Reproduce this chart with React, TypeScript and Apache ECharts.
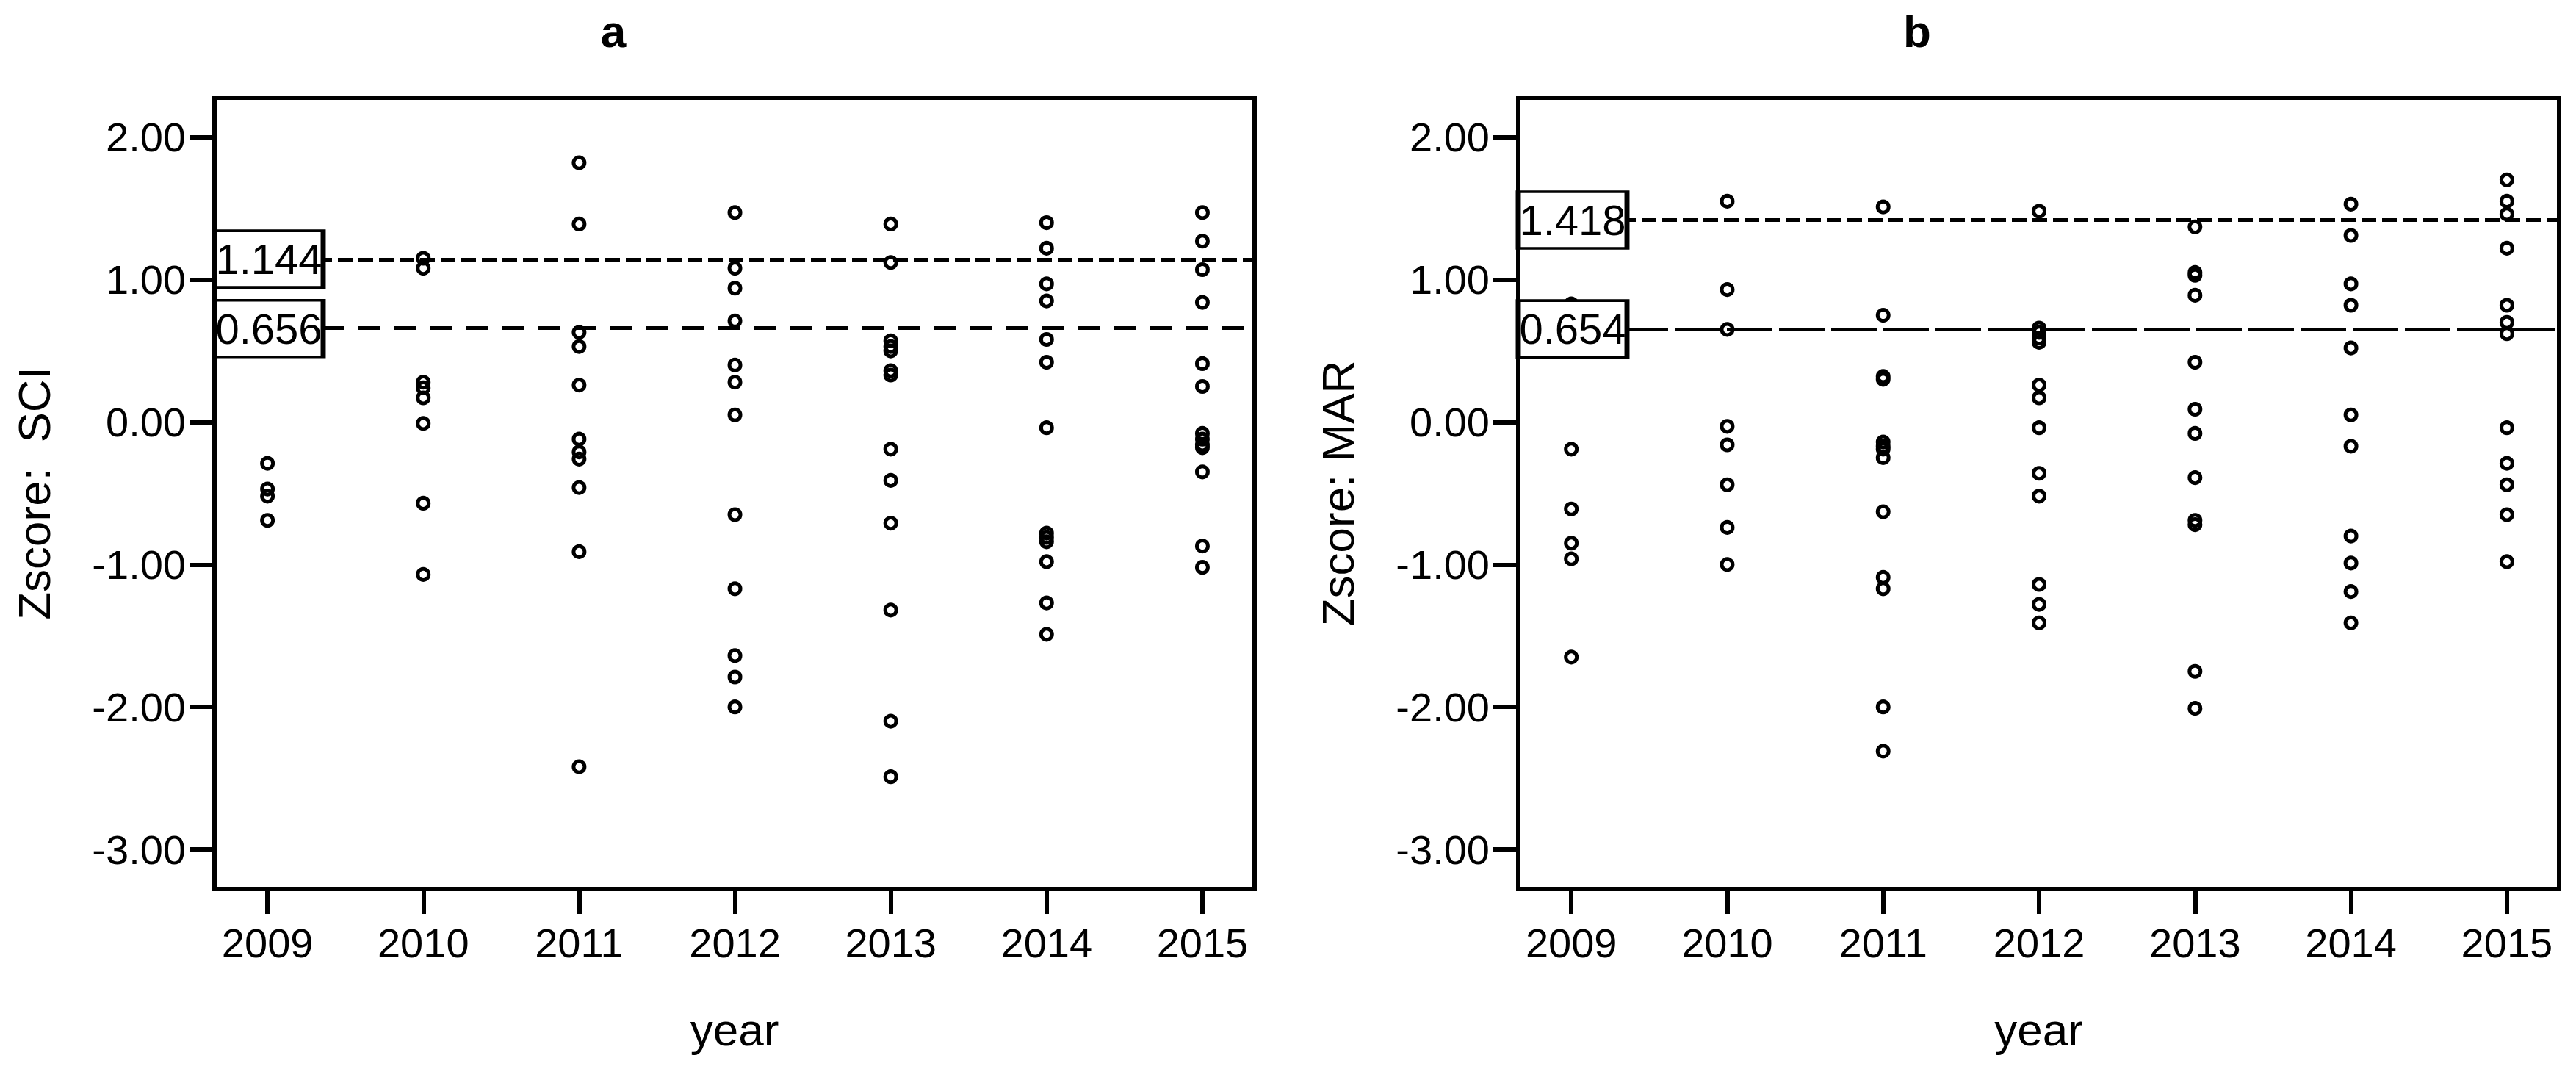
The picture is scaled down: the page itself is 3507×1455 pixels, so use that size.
import React, { useEffect, useRef } from "react";
import * as echarts from "echarts";

// ---------- data ----------
const years = [2009, 2010, 2011, 2012, 2013, 2014, 2015];
const yTicks = [-3, -2, -1, 0, 1, 2];

const sci2009 = [-0.29, -0.47, -0.52, -0.69];
const sci2010 = [1.15, 1.08, 0.28, 0.24, 0.17, -0.01, -0.57, -1.07];
const sci2011 = [1.82, 1.39, 0.63, 0.53, 0.26, -0.12, -0.21, -0.26, -0.46, -0.91, -2.42];
const sci2012 = [1.47, 1.08, 0.94, 0.71, 0.4, 0.28, 0.05, -0.65, -1.17, -1.64, -1.79, -2.0];
const sci2013 = [1.39, 1.12, 0.57, 0.53, 0.5, 0.36, 0.33, -0.19, -0.41, -0.71, -1.32, -2.1, -2.49];
const sci2014 = [1.4, 1.22, 0.97, 0.85, 0.58, 0.42, -0.04, -0.78, -0.81, -0.84, -0.98, -1.27, -1.49];
const sci2015 = [1.47, 1.27, 1.07, 0.84, 0.41, 0.25, -0.08, -0.12, -0.16, -0.18, -0.35, -0.87, -1.02];

const mar2009 = [0.83, -0.19, -0.61, -0.85, -0.96, -1.65];
const mar2010 = [1.55, 0.93, 0.65, -0.03, -0.16, -0.44, -0.74, -1.0];
const mar2011 = [1.51, 0.75, 0.32, 0.3, -0.14, -0.17, -0.19, -0.25, -0.63, -1.09, -1.17, -2.0, -2.31];
const mar2012 = [1.48, 0.66, 0.63, 0.59, 0.56, 0.26, 0.17, -0.04, -0.36, -0.52, -1.14, -1.28, -1.41];
const mar2013 = [1.37, 1.05, 1.03, 0.89, 0.42, 0.09, -0.08, -0.39, -0.69, -0.72, -1.75, -2.01];
const mar2014 = [1.53, 1.31, 0.97, 0.82, 0.52, 0.05, -0.17, -0.8, -0.99, -1.19, -1.41];
const mar2015 = [1.7, 1.55, 1.46, 1.22, 0.82, 0.7, 0.62, -0.04, -0.29, -0.44, -0.65, -0.98];

const sciByYear = [sci2009, sci2010, sci2011, sci2012, sci2013, sci2014, sci2015];
const marByYear = [mar2009, mar2010, mar2011, mar2012, mar2013, mar2014, mar2015];

const sciThresholds = [1.144, 0.656];
const marThresholds = [1.418, 0.654];

const panelTitles = ["a", "b"];
const yNames = ["Zscore:  SCI", "Zscore: MAR"];
const xName = "year";

// ---------- layout / style ----------
const X_MIN = 2008.66;
const X_MAX = 2015.335;
const Y_MIN = -3.278;
const Y_MAX = 2.277;
const FONT = "'Liberation Sans', Arial, Helvetica, sans-serif";

function toPoints(byYear: number[][]) {
  const pts: number[][] = [];
  byYear.forEach((vals, i) => vals.forEach((v) => pts.push([years[i], v])));
  return pts;
}

function buildOption() {
  const grids = [
    { left: 292, top: 133, right: 1799, bottom: 245 },
    { left: 2067, top: 133, right: 23, bottom: 245 },
  ].map((g) => ({
    ...g,
    show: true,
    borderColor: "#000",
    borderWidth: 6,
    backgroundColor: "transparent",
    containLabel: false,
  }));

  const xAxes = [0, 1].map((gi) => ({
    gridIndex: gi,
    type: "value",
    min: X_MIN,
    max: X_MAX,
    name: xName,
    nameLocation: "middle",
    nameGap: 160,
    nameTextStyle: { fontSize: 62, color: "#000", fontFamily: FONT },
    axisLine: { show: true, onZero: false, lineStyle: { color: "#000", width: 6 } },
    axisTick: { show: true, length: 34, customValues: years, lineStyle: { color: "#000", width: 6 } },
    axisLabel: {
      show: true,
      customValues: years,
      fontSize: 56,
      margin: 45,
      color: "#000",
      fontFamily: FONT,
      formatter: (v: number) => String(Math.round(v)),
    },
    splitLine: { show: false },
  }));

  const yAxes = [0, 1].map((gi) => ({
    gridIndex: gi,
    type: "value",
    min: Y_MIN,
    max: Y_MAX,
    name: yNames[gi],
    nameLocation: "middle",
    nameGap: 215,
    nameRotate: 90,
    nameTextStyle: { fontSize: 62, color: "#000", fontFamily: FONT },
    axisLine: { show: true, onZero: false, lineStyle: { color: "#000", width: 6 } },
    axisTick: { show: true, length: 34, customValues: yTicks, lineStyle: { color: "#000", width: 6 } },
    axisLabel: {
      show: true,
      customValues: yTicks,
      fontSize: 56,
      margin: 39,
      color: "#000",
      fontFamily: FONT,
      padding: [14, 0, 0, 0],
      formatter: (v: number) => v.toFixed(2),
    },
    splitLine: { show: false },
  }));

  const dashSets = [
    [
      [20, 8],
      [29, 20],
    ],
    [
      [20, 8],
      [62, 9],
    ],
  ];
  const dataSets = [toPoints(sciByYear), toPoints(marByYear)];
  const thresholdSets = [sciThresholds, marThresholds];

  const series: any[] = [];
  [0, 1].forEach((gi) => {
    series.push({
      type: "scatter",
      xAxisIndex: gi,
      yAxisIndex: gi,
      data: dataSets[gi],
      symbol: "circle",
      symbolSize: 15,
      clip: false,
      z: 3,
      itemStyle: { color: "rgba(0,0,0,0)", borderColor: "#000", borderWidth: 5, opacity: 1 },
      silent: true,
      markLine: {
        silent: true,
        symbol: ["none", "none"],
        label: { show: false },
        z: 4,
        lineStyle: { color: "#000", width: 5, opacity: 1 },
        data: thresholdSets[gi].map((t, k) => ({
          yAxis: t,
          lineStyle: { color: "#000", width: 5, opacity: 1, type: dashSets[gi][k] },
        })),
      },
    });
    series.push({
      type: "scatter",
      xAxisIndex: gi,
      yAxisIndex: gi,
      data: thresholdSets[gi].map((t) => [X_MIN, t]),
      symbol: "rect",
      symbolSize: [148, 77],
      symbolOffset: [74, 0],
      clip: false,
      z: 10,
      silent: true,
      itemStyle: { color: "#fff", borderColor: "#000", borderWidth: 5, opacity: 1 },
      label: {
        show: true,
        position: "inside",
        fontSize: 58,
        color: "#000",
        textBorderWidth: 0,
        fontFamily: FONT,
        formatter: (p: any) => p.value[1].toFixed(3),
      },
    });
  });

  const graphic = [
    { x: 835, y: 42 },
    { x: 2610, y: 42 },
  ].map((pos, i) => ({
    type: "text",
    x: pos.x,
    y: pos.y,
    silent: true,
    style: {
      text: panelTitles[i],
      fill: "#000",
      font: `bold 62px ${FONT}`,
      textAlign: "center",
      textVerticalAlign: "middle",
    },
  }));

  return {
    animation: false,
    backgroundColor: "#fff",
    textStyle: { fontFamily: FONT },
    grid: grids,
    xAxis: xAxes,
    yAxis: yAxes,
    series,
    graphic,
  };
}

export default function App() {
  const ref = useRef<HTMLDivElement>(null);
  useEffect(() => {
    document.body.style.margin = "0";
    if (!ref.current) return;
    const chart = echarts.init(ref.current, undefined, { renderer: "svg" });
    chart.setOption(buildOption() as any);
    return () => chart.dispose();
  }, []);
  return <div ref={ref} style={{ width: 3507, height: 1455, background: "#fff" }} />;
}
